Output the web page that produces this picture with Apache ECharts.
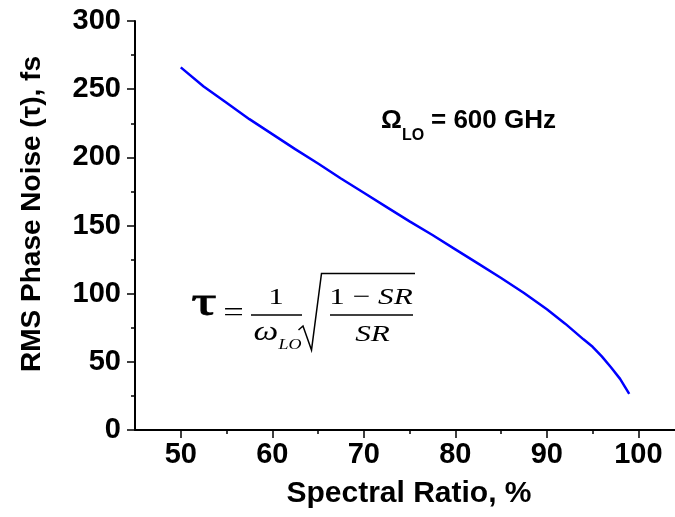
<!DOCTYPE html>
<html>
<head>
<meta charset="utf-8">
<script src="https://cdn.jsdelivr.net/npm/echarts@6/dist/echarts.min.js"></script>
<style>html,body{margin:0;padding:0;background:#fff}#c{width:675px;height:517px}</style>
</head>
<body>
<div id="c"></div>
<script>
// Data
const spectralRatio = [50, 52.5, 55, 57.5, 60, 62.5, 65, 67.5, 70, 72.5, 75, 77.5, 80, 82.5, 85, 87.5, 90, 92, 94, 95, 96, 97, 98, 99];
const phaseNoise = [266, 252, 240, 228, 217, 206, 195.5, 184.5, 174, 163.5, 153, 143, 132.5, 122, 111.5, 100.5, 88.5, 78, 66.5, 61, 54, 46, 37.5, 26.5];
const xMajorTicks = [50, 60, 70, 80, 90, 100];
const xMinorTicks = [55, 65, 75, 85, 95];
const xTitle = 'Spectral Ratio, %';
const yTitle = 'RMS Phase Noise (τ), fs';

const chart = echarts.init(document.getElementById('c'), null, {renderer: 'canvas'});
const F = 'Liberation Sans, Arial, sans-serif';
const S = 'Liberation Serif, Times New Roman, serif';
const labelStyle = {fontFamily: F, fontWeight: 'bold', fontSize: 29, color: '#000'};
const SX = 1.3;

chart.setOption({
  animation: false,
  backgroundColor: '#fff',
  grid: {left: 135, top: 21, right: 0, bottom: 87, containLabel: false},
  xAxis: [{
    type: 'value', min: 45, max: 104,
    axisLine: {show: true, lineStyle: {color: '#000', width: 2}},
    axisTick: {show: true, customValues: xMajorTicks, length: 8, lineStyle: {color: '#000', width: 1.5}},
    axisLabel: Object.assign({customValues: xMajorTicks, margin: 10}, labelStyle),
    splitLine: {show: false}
  }, {
    type: 'value', min: 45, max: 104, position: 'bottom',
    axisLine: {show: false},
    axisTick: {show: true, customValues: xMinorTicks, length: 4, lineStyle: {color: '#000', width: 1.5}},
    axisLabel: {show: false},
    splitLine: {show: false}
  }],
  yAxis: {
    type: 'value', min: 0, max: 300, interval: 50,
    axisLine: {show: true, lineStyle: {color: '#000', width: 2}},
    axisTick: {show: true, length: 8, lineStyle: {color: '#000', width: 1.5}},
    minorTick: {show: true, splitNumber: 2, length: 4, lineStyle: {color: '#000', width: 1.5}},
    axisLabel: Object.assign({margin: 14}, labelStyle),
    splitLine: {show: false}
  },
  series: [{
    type: 'line', xAxisIndex: 0,
    data: spectralRatio.map((x, i) => [x, phaseNoise[i]]),
    showSymbol: false, smooth: false,
    lineStyle: {color: '#0000ff', width: 2.5}
  }],
  graphic: [
    {type: 'text', x: 409, y: 494, style: {text: xTitle, font: 'bold 30px ' + F, fill: '#000', align: 'center', verticalAlign: 'middle'}},
    {type: 'text', x: 32, y: 214, rotation: Math.PI / 2, style: {text: yTitle, font: 'bold 28px ' + F, fill: '#000', align: 'center', verticalAlign: 'middle'}},
    // Omega annotation
    {type: 'text', x: 381, y: 121, style: {text: 'Ω', font: 'bold 26px ' + F, fill: '#000', align: 'left', verticalAlign: 'middle'}},
    {type: 'text', x: 402, y: 136, style: {text: 'LO', font: 'bold 16px ' + F, fill: '#000', align: 'left', verticalAlign: 'middle'}},
    {type: 'text', x: 431, y: 121, style: {text: '= 600 GHz', font: 'bold 26px ' + F, fill: '#000', align: 'left', verticalAlign: 'middle'}},
    // Formula
    {type: 'text', x: 204, y: 304, scaleX: 1.5, style: {text: 'τ', font: '42px ' + S, fill: '#000', stroke: '#000', lineWidth: 0.8, align: 'center', verticalAlign: 'middle'}},
    {type: 'text', x: 233.5, y: 314, scaleX: SX, style: {text: '=', font: '28px ' + S, fill: '#000', align: 'center', verticalAlign: 'middle'}},
    {type: 'text', x: 276, y: 298, scaleX: SX, style: {text: '1', font: '24px ' + S, fill: '#000', align: 'center', verticalAlign: 'middle'}},
    {type: 'line', shape: {x1: 251, y1: 315, x2: 302, y2: 315}, style: {stroke: '#000', lineWidth: 1.3}},
    {type: 'text', x: 266, y: 333, scaleX: 1.3, style: {text: 'ω', font: 'italic 27px ' + S, fill: '#000', align: 'center', verticalAlign: 'middle'}},
    {type: 'text', x: 290, y: 345, scaleX: 1.2, style: {text: 'LO', font: 'italic 15px ' + S, fill: '#000', align: 'center', verticalAlign: 'middle'}},
    {type: 'polyline', shape: {points: [[298.5, 330], [303, 326], [311.5, 350], [321.5, 273.5], [415, 273.5]]}, style: {stroke: '#000', lineWidth: 1.5, fill: null}},
    {type: 'text', x: 371, y: 298, scaleX: SX, style: {text: '{n|1 − }{i|SR}', fill: '#000', align: 'center', verticalAlign: 'middle',
      rich: {n: {font: '24px ' + S, fill: '#000'}, i: {font: 'italic 24px ' + S, fill: '#000'}}}},
    {type: 'line', shape: {x1: 330, y1: 315, x2: 413, y2: 315}, style: {stroke: '#000', lineWidth: 1.3}},
    {type: 'text', x: 372.5, y: 335, scaleX: SX, style: {text: 'SR', font: 'italic 24px ' + S, fill: '#000', align: 'center', verticalAlign: 'middle'}}
  ]
});
</script>
</body>
</html>
